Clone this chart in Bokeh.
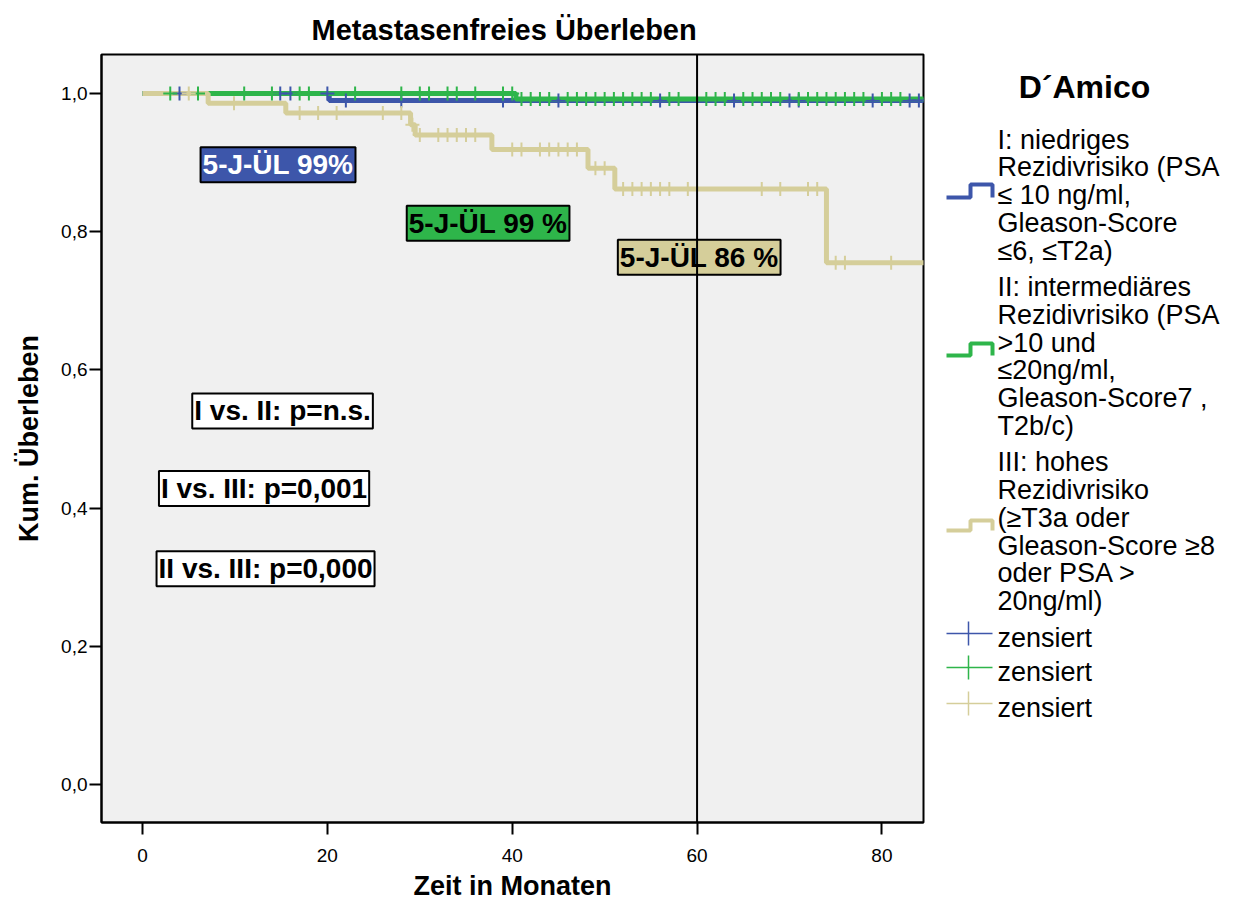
import numpy as np
from bokeh.plotting import figure
from bokeh.models import Range1d, Label, Span, FixedTicker
from bokeh.layouts import row
from bokeh.core.properties import value
from bokeh.embed import file_html
from bokeh.resources import INLINE

# Kaplan-Meier steps: time in months, cumulative survival
t_low = [0, 20.2, 86]
s_low = [1.0, 0.990, 0.990]
t_mid = [0, 40.4, 86]
s_mid = [1.0, 0.992, 0.992]
t_high = [0, 7.1, 15.5, 29.0, 29.5, 37.8, 48.2, 51.1, 74.0, 86]
s_high = [1.0, 0.986, 0.972, 0.955, 0.940, 0.919, 0.892, 0.862, 0.755, 0.755]

# censored observations (months)
cens_low = [4, 14.9, 16, 20, 22, 28, 39, 45, 56, 64, 70, 71, 79, 83, 84]
cens_mid = [3, 6, 11, 14, 17, 18, 23, 28, 30, 31, 33, 34, 36, 39, 40,
            41, 42, 43, 44, 46, 47, 48, 49, 50, 51, 52, 53, 54, 55, 57, 58,
            61, 62, 63, 65, 66, 67, 68, 69, 71, 72, 73, 74, 75, 76, 77, 78,
            80, 81, 82]
cens_high = [5, 9.9, 17, 19, 21, 26, 28, 29.2, 30, 32, 33, 34, 35, 36,
             40, 41, 43, 44, 45, 46, 47, 49, 50, 52, 53, 54, 55, 56, 57, 59,
             67, 69, 72, 73, 75, 76, 81]

x_ticks = [0, 20, 40, 60, 80]
y_ticks = [0.0, 0.2, 0.4, 0.6, 0.8, 1.0]
y_tick_labels = ["0,0", "0,2", "0,4", "0,6", "0,8", "1,0"]

legend_title = "D\u00b4Amico"
legend_low = ["I: niedriges", "Rezidivrisiko (PSA", "\u2264 10 ng/ml,",
              "Gleason-Score", "\u22646, \u2264T2a)"]
legend_mid = ["II: intermedi\u00e4res", "Rezidivrisiko (PSA", ">10 und",
              "\u226420ng/ml,", "Gleason-Score7 ,", "T2b/c)"]
legend_high = ["III: hohes", "Rezidivrisiko", "(\u2265T3a oder",
               "Gleason-Score \u22658", "oder PSA >", "20ng/ml)"]
cens_label = "zensiert"

BLUE = "#3d56aa"
GREEN = "#2eb54a"
BEIGE = "#d5ce9a"
FONT = "Liberation Sans"


def surv_at(ts, ss, t):
    idx = np.searchsorted(np.array(ts), np.array(t), side="right") - 1
    return list(np.array(ss)[idx])


p = figure(width=928, height=904, output_backend="svg", toolbar_location=None,
           x_range=Range1d(-4.44, 84.5), y_range=Range1d(-0.055, 1.0565),
           min_border_left=101, min_border_right=5, min_border_top=54,
           min_border_bottom=82, title="Metastasenfreies \u00dcberleben")
p.title.align = "left"
p.title.offset = 210
p.title.standoff = 17
p.title.text_font = FONT
p.title.text_font_style = "bold"
p.title.text_font_size = "29px"
p.title.text_color = "black"
p.background_fill_color = "#f0f0f0"
p.border_fill_color = "white"
p.outline_line_color = "black"
p.outline_line_width = 2
p.grid.visible = False

p.xaxis.ticker = FixedTicker(ticks=x_ticks)
p.yaxis.ticker = FixedTicker(ticks=y_ticks)
p.yaxis.major_label_overrides = {t: l for t, l in zip(y_ticks, y_tick_labels)}
for ax in (p.xaxis, p.yaxis):
    ax.axis_line_width = 2
    ax.major_tick_line_width = 2
    ax.major_tick_out = 12
    ax.major_tick_in = 0
    ax.minor_tick_line_color = None
    ax.major_label_text_font = FONT
    ax.major_label_text_font_size = "19px"
    ax.major_label_text_color = "black"
    ax.axis_label_text_font = FONT
    ax.axis_label_text_font_style = "bold"
    ax.axis_label_text_font_size = "27px"
    ax.axis_label_text_color = "black"
p.xaxis.major_label_standoff = 14
p.yaxis.major_label_standoff = 2
p.xaxis.axis_label = "Zeit in Monaten"
p.xaxis.axis_label_standoff = 6
p.yaxis.axis_label = "Kum. \u00dcberleben"
p.yaxis.axis_label_standoff = 14

for ts, ss, col in ((t_low, s_low, BLUE), (t_mid, s_mid, GREEN), (t_high, s_high, BEIGE)):
    p.step(ts, ss, mode="after", line_width=5, color=col)

for ts, ss, cens, col in ((t_low, s_low, cens_low, BLUE), (t_mid, s_mid, cens_mid, GREEN),
                          (t_high, s_high, cens_high, BEIGE)):
    p.scatter(cens, surv_at(ts, ss, cens), marker="cross", size=14, line_width=2, color=col)


def box(x, y, text, fill, color="black"):
    p.add_layout(Label(x=x, y=y, text=text, text_font=FONT, text_font_style="bold",
                       text_font_size="28px", text_color=color, text_align="center",
                       text_baseline="middle", background_fill_color=fill,
                       border_line_color="black", border_line_width=2, padding=2))


box(14.66, 0.897, "5-J-\u00dcL 99%", BLUE, "white")
box(37.39, 0.8123, "5-J-\u00dcL 99 %", GREEN)
box(60.23, 0.763, "5-J-\u00dcL 86 %", BEIGE)
box(15.15, 0.5406, "I vs. II: p=n.s.", "white")
box(13.15, 0.4283, "I vs. III: p=0,001", "white")
box(13.31, 0.3123, "II vs. III: p=0,000", "white")

p.add_layout(Span(location=60, dimension="height", line_color="black", line_width=2))

# legend panel; its frame is aligned with the plot frame (page y 54..822)
lg = figure(width=307, height=904, output_backend="svg", toolbar_location=None,
            x_range=Range1d(928, 1235), y_range=Range1d(822, 54),
            min_border=0)
lg.axis.visible = False
lg.grid.visible = False
lg.outline_line_color = None
lg.background_fill_color = "white"

lg.text([1084], [86], text=[legend_title], text_font=value(FONT), text_font_style="bold",
        text_font_size="32px", text_align="center", text_baseline="middle")

line_rows = [(legend_low, 139, 197, 184, BLUE),
             (legend_mid, 286.5, 355, 343, GREEN),
             (legend_high, 461.7, 530, 520, BEIGE)]
for lines, y0, ylo, yhi, col in line_rows:
    ys = [y0 + 27.8 * i for i in range(len(lines))]
    lg.text([997] * len(lines), ys, text=lines, text_font=value(FONT),
            text_font_size="27px", text_align="left", text_baseline="middle")
    lg.line([946, 970, 970, 992, 992], [ylo, ylo, yhi, yhi, ylo], line_width=4, color=col)

for yc, col in ((637, BLUE), (671, GREEN), (707, BEIGE)):
    lg.text([997], [yc], text=[cens_label], text_font=value(FONT),
            text_font_size="27px", text_align="left", text_baseline="middle")
    lg.line([946, 992], [yc - 4, yc - 4], line_width=1.5, color=col)
    lg.line([968, 968], [yc - 16, yc + 8], line_width=1.5, color=col)

layout = row(p, lg)
open("out.html", "w").write(file_html(layout, INLINE))
